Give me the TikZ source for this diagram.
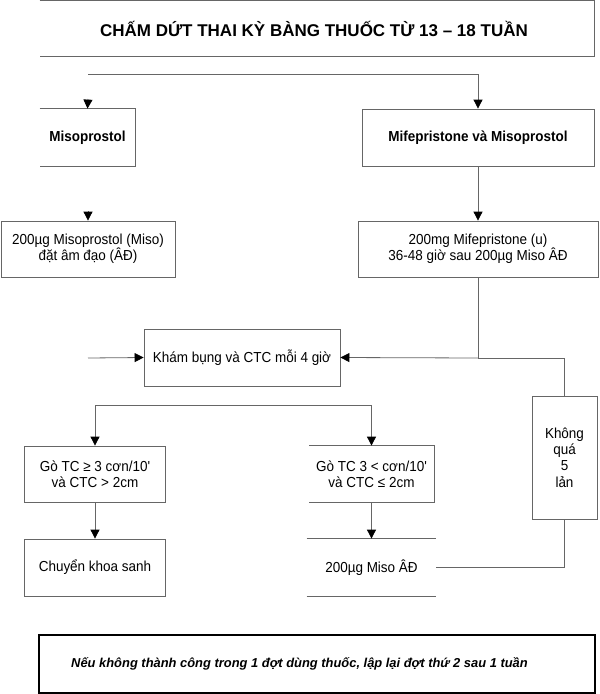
\documentclass[tikz,border=0pt]{standalone}
\usepackage{fontspec}
\setmainfont{Liberation Sans}[Ligatures=TeXOff]
\newfontfamily\nfont{Liberation Sans}[FakeStretch=0.93,Ligatures=TeXOff]
\usetikzlibrary{arrows.meta}
\newcommand\fsn{\nfont\fontsize{14.5}{16.3}\selectfont}
\newcommand\fsb{\nfont\fontsize{14.5}{16.3}\selectfont\bfseries}
\newcommand\fsi{\fontsize{12.9}{15}\selectfont\bfseries\itshape}
\newcommand\fst{\fontsize{17}{20}\selectfont\bfseries}
\begin{document}
\begin{tikzpicture}[x=1pt,y=-1pt,
  base/.style={inner sep=0pt,align=center,font=\fsn,line width=0.8pt},
  framed/.style={base,draw=black!60},
  ln/.style={draw=black!60,line width=0.8pt},
  arr/.style={ln,-{Triangle[length=9pt,width=9pt,color=black]}}]
\useasboundingbox[fill=white] (0,0) rectangle (600,694);
% nodes
\node[base,minimum width=554,minimum height=55] (title) at (317,28.5) {};
\node[base,font=\fst] (titletext) at (314,28.5) {CHẤM DỨT THAI KỲ BÀNG THUỐC TỪ 13 – 18 TUẦN};
\node[base,font=\fsb,minimum width=95,minimum height=57] (misoL) at (87.5,137.5) {Misoprostol};
\node[framed,font=\fsb,minimum width=232,minimum height=57] (mifeR) at (478,137.5) {Mifepristone và Misoprostol};
\node[framed,minimum width=174,minimum height=56] (misoL2) at (88,249) {200µg Misoprostol (Miso)\\đặt âm đạo (ÂĐ)};
\node[framed,minimum width=240,minimum height=56] (mifeR2) at (478,249) {200mg Mifepristone (u)\\36-48 giờ sau 200µg Miso ÂĐ};
\node[framed,minimum width=196,minimum height=57] (kham) at (242,357.5) {Khám bụng và CTC mỗi 4 giờ};
\node[framed,minimum width=141,minimum height=56] (go1) at (95,474) {Gò TC ≥ 3 cơn/10'\\và CTC > 2cm};
\node[base,minimum width=124,minimum height=56] (go2) at (371.5,474) {Gò TC 3 < cơn/10'\\và CTC ≤ 2cm};
\node[framed,minimum width=141,minimum height=57] (chuyen) at (95,567.5) {Chuyển khoa sanh};
\node[base,minimum width=129,minimum height=57] (miso3) at (371.5,567.5) {200µg Miso ÂĐ};
\node[framed,minimum width=65,minimum height=123] (khong) at (564.5,457.5) {Không\\quá\\5\\lản};
\node[base,draw=black,line width=1.6pt,minimum width=556,minimum height=58] (note) at (317,664) {};
\node[base,font=\fsi] (notetext) at (299.5,663.5) {Nếu không thành công trong 1 đợt dùng thuốc, lập lại đợt thứ 2 sau 1 tuần};
% partial frames
\draw[ln] (title.north west) -- (title.north east) -- (title.south east) -- (title.south west);
\draw[ln] (misoL.north west) -- (misoL.north east) -- (misoL.south east) -- (misoL.south west);
\draw[ln] (go2.north west) -- (go2.north east) -- (go2.south east) -- (go2.south west);
\draw[ln] (miso3.north west) -- (miso3.north east);
\draw[ln] (miso3.south west) -- (miso3.south east);
% coordinates
\coordinate (top1) at (88,74);
\coordinate (top2) at (478,74);
\coordinate (a1) at (88,99);
\coordinate (a2) at (88,211);
\coordinate (j1) at (478,358);
\coordinate (j2) at (564.5,358);
\coordinate (a3) at (88,358);
\coordinate (b1) at (95,405);
\coordinate (b2) at (371.5,405);
\coordinate (r1) at (564.5,567.5);
% connectors
\draw[ln] (top1) -- (top2);
\draw[arr] (top2) -- (mifeR.north);
\draw[arr] (a1) -- (misoL.north);
\draw[arr] (mifeR.south) -- (mifeR2.north);
\draw[arr] (a2) -- (misoL2.north);
\draw[ln] (mifeR2.south) -- (j1) -- (j2) -- (khong.north);
\draw[arr] (j1) -- (kham.east);
\draw[arr] (a3) -- (kham.west);
\draw[ln] (b1) -- (b2);
\draw[arr] (b1) -- (go1.north);
\draw[arr] (b2) -- (go2.north);
\draw[arr] (go1.south) -- (chuyen.north);
\draw[arr] (go2.south) -- (miso3.north);
\draw[ln] (miso3.east) -- (r1) -- (khong.south);
\end{tikzpicture}
\end{document}
